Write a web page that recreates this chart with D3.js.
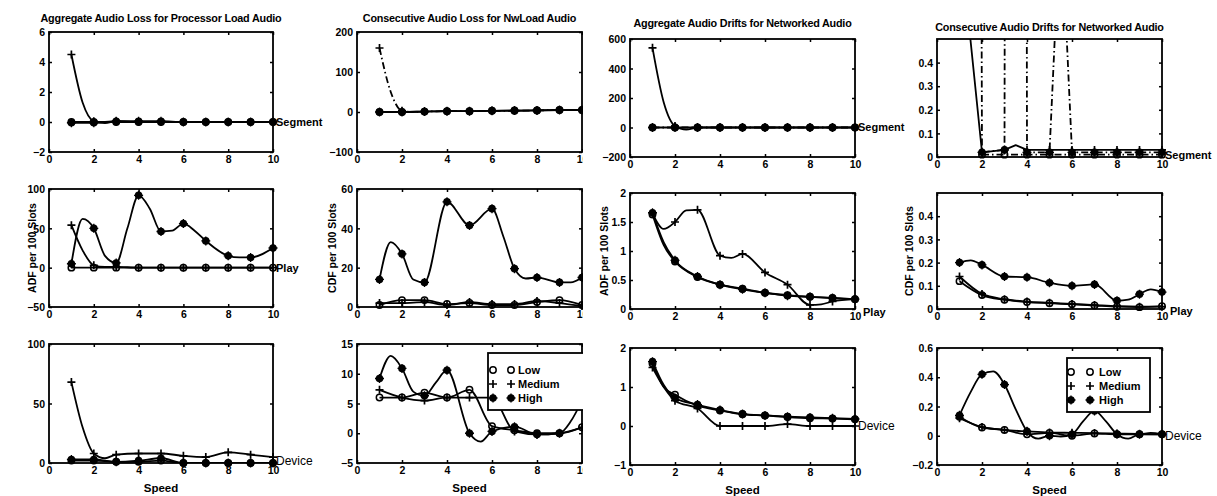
<!DOCTYPE html>
<html><head><meta charset="utf-8">
<script src="https://cdn.jsdelivr.net/npm/d3@7"></script>
<style>
body{margin:0;background:#fff}
svg{display:block}
text{font-family:"Liberation Sans",Arial,Helvetica,sans-serif;fill:#000}
</style>
</head><body>
<svg id="c" width="1217" height="496"></svg>
<script>
// ---------- texts ----------
const titles = [
  "Aggregate Audio Loss for Processor Load Audio",
  "Consecutive Audio Loss for NwLoad Audio",
  "Aggregate Audio Drifts for Networked Audio",
  "Consecutive Audio Drifts for Networked Audio"
];
const rowLabels = ["Segment", "Play", "Device"];
const yLabels = ["ADF per 100 Slots", "CDF per 100 Slots", "ADF per 100 Slots", "CDF per 100 Slots"];
const legendLabels = ["Low", "Medium", "High"];
const xLabel = "Speed";
const xTicks = [0, 2, 4, 6, 8, 10];

// ---------- axes ranges / ticks ----------
const yDomainsCol1 = [[-2, 6], [-50, 100], [0, 100]];
const yTicksCol1   = [[-2, 0, 2, 4, 6], [-50, 0, 50, 100], [0, 50, 100]];
const yDomainsCol2 = [[-100, 200], [0, 60], [-5, 15]];
const yTicksCol2   = [[-100, 0, 100, 200], [0, 20, 40, 60], [-5, 0, 5, 10, 15]];
const yDomainsCol3 = [[-200, 600], [0, 2], [-1, 2]];
const yTicksCol3   = [[-200, 0, 200, 400, 600], [0, 0.5, 1, 1.5, 2], [-1, 0, 1, 2]];
const yDomainsCol4 = [[0, 0.5], [0, 0.5], [-0.2, 0.6]];
const yTicksCol4   = [[0, 0.1, 0.2, 0.3, 0.4], [0, 0.1, 0.2, 0.3, 0.4], [-0.2, 0, 0.2, 0.4, 0.6]];
// value where the row label (Segment/Play/Device) sits at speed 10 (null: cut off in the original)
const labelValCol1 = [0, 0, 1.5];
const labelValCol2 = [null, null, null];
const labelValCol3 = [0, -0.05, 0];
const labelValCol4 = [0.009, -0.01, 0];

// ---------- data: [speed, value] ----------
// Column 1: Aggregate Audio Loss for Processor Load Audio
const c1SegLow  = [[1,0],[2,0],[3,0],[4,0],[5,0],[6,0],[7,0],[8,0],[9,0],[10,0]];
const c1SegMed  = [[1,4.5],[1.5,1.3],[2,0.05],[2.5,-0.08],[3,0.05],[4,0],[5,0],[6,0],[7,0],[8,0],[9,0],[10,0]];
const c1SegHigh = [[1,-0.05],[2,-0.05],[3,0.05],[4,0.05],[5,0.05],[6,0],[7,0],[8,0],[9,0],[10,0]];
const c1PlayLow  = [[1,0],[2,0],[3,0],[4,0],[5,0],[6,0],[7,0],[8,0],[9,0],[10,0]];
const c1PlayMed  = [[1,54],[1.5,22],[2,3],[2.5,1],[3,1],[4,0],[5,0],[6,0],[7,0],[8,0],[9,0],[10,0]];
const c1PlayHigh = [[1,5],[1.5,62],[2,50],[2.5,15],[3,6],[3.5,50],[4,92],[4.5,75],[5,46],[5.5,47],[6,56],[6.5,47],[7,34],[8,15],[8.5,13],[9,13],[10,25]];
const c1DevLow  = [[1,2],[2,2],[3,1],[4,1],[5,2],[6,0],[7,0],[8,0],[9,0],[10,0]];
const c1DevMed  = [[1,68],[1.5,30],[2,8],[2.5,4],[3,7],[4,8],[5,8],[6,6],[7,5],[8,9],[9,7],[10,5]];
const c1DevHigh = [[1,3],[2,3],[3,1],[4,2],[5,4],[6,0],[7,0],[8,0],[9,0],[10,0]];
// Column 2: Consecutive Audio Loss for NwLoad Audio
const c2SegLow  = [[1,0],[2,0],[3,1],[4,2],[5,2],[6,3],[7,3],[8,4],[9,5],[10,5]];
const c2SegMed  = [[1,160],[1.5,50],[2,3],[2.5,0],[3,1],[4,2],[5,2],[6,3],[7,3],[8,4],[9,5],[10,5]];
const c2SegHigh = [[1,0],[2,0],[3,1],[4,2],[5,2],[6,3],[7,4],[8,4],[9,5],[10,5]];
const c2PlayLow  = [[1,1],[2,3.5],[3,3.5],[4,1.5],[5,2],[6,1],[7,1],[8,2.5],[9,3.5],[10,1]];
const c2PlayMed  = [[1,2],[2,2],[3,2.5],[4,1],[5,2.5],[6,1.5],[7,1.5],[8,3],[9,2],[10,0.5]];
const c2PlayHigh = [[1,14],[1.5,33],[2,27],[2.5,14],[3,12.5],[4,53.5],[5,41.5],[6,50],[6.5,36],[7,19.5],[7.5,14.5],[8,15],[9,12.5],[9.5,12.5],[10,15]];
const c2DevLow  = [[1,6],[2,6],[3,6.8],[4,6],[5,7.3],[6,1.2],[7,0.5],[8,0],[9,0],[10,1]];
const c2DevMed  = [[1,7.3],[2,6],[3,5.5],[4,6],[5,6],[6,6],[7,0.3],[8,-0.2],[9,0],[10,1]];
const c2DevHigh = [[1,9.2],[1.5,13],[2,10.9],[2.5,7],[3,6.3],[3.5,8.5],[4,10.6],[5,0],[5.5,-1.4],[6,0.3],[7,1.1],[8,-0.2],[9,0],[9.5,2],[10,5.5]];
// Column 3: Aggregate Audio Drifts for Networked Audio
const c3SegLow  = [[1,0],[2,0],[3,0],[4,0],[5,0],[6,0],[7,0],[8,0],[9,0],[10,0]];
const c3SegMed  = [[1,540],[1.5,170],[2,10],[2.5,-15],[3,0],[4,0],[5,0],[6,0],[7,0],[8,0],[9,0],[10,0]];
const c3SegHigh = [[1,0],[2,0],[3,0],[4,0],[5,0],[6,0],[7,0],[8,0],[9,0],[10,0]];
const c3PlayLow  = [[1,1.63],[1.5,1.1],[2,0.82],[3,0.55],[4,0.42],[5,0.35],[6,0.28],[7,0.24],[8,0.21],[9,0.19],[10,0.17]];
const c3PlayMed  = [[1,1.65],[1.5,1.38],[2,1.5],[2.5,1.7],[3,1.71],[4,0.92],[4.5,0.88],[5,0.95],[6,0.63],[7,0.42],[8,0.07],[8.5,0.08],[9,0.13],[10,0.17]];
const c3PlayHigh = [[1,1.66],[1.5,1.15],[2,0.84],[3,0.56],[4,0.42],[5,0.34],[6,0.28],[7,0.23],[8,0.21],[9,0.19],[10,0.17]];
const c3DevLow  = [[1,1.6],[1.5,1.0],[2,0.8],[3,0.52],[4,0.4],[5,0.3],[6,0.27],[7,0.23],[8,0.2],[9,0.19],[10,0.17]];
const c3DevMed  = [[1,1.5],[1.5,1.0],[2,0.65],[3,0.45],[4,0],[5,0],[6,0],[7,0.05],[8,0],[9,0],[10,0]];
const c3DevHigh = [[1,1.65],[1.5,1.05],[2,0.72],[3,0.55],[4,0.41],[5,0.31],[6,0.27],[7,0.24],[8,0.22],[9,0.2],[10,0.18]];
// Column 4: Consecutive Audio Drifts for Networked Audio
const c4SegLow  = [[2,0.01],[3,0.01],[4,0.01],[5,0.01],[6,0.01],[7,0.01],[8,0.01],[9,0.01],[10,0.01]];
const c4SegMed  = [[1,0.95],[2,0.02],[3,0.03],[3.5,0.05],[4,0.03],[5,0.03],[6,0.03],[7,0.03],[8,0.03],[9,0.03],[10,0.03]];
const c4SegHigh = [[1,30],[2,0.02],[3,0.03],[3.5,30],[4,0.02],[5,0.02],[5.5,1.05],[6,0.02],[7,0.02],[8,0.02],[9,0.02],[10,0.02]];
const c4PlayLow  = [[1,0.12],[2,0.06],[3,0.04],[4,0.03],[5,0.025],[6,0.02],[7,0.015],[8,0.01],[9,0.008],[10,0.012]];
const c4PlayMed  = [[1,0.14],[2,0.065],[3,0.042],[4,0.032],[5,0.027],[6,0.022],[7,0.017],[8,0.012],[9,0.01],[10,0.01]];
const c4PlayHigh = [[1,0.2],[1.5,0.21],[2,0.19],[3,0.14],[4,0.137],[5,0.113],[6,0.1],[7,0.106],[8,0.036],[8.5,0.04],[9,0.064],[9.5,0.085],[10,0.073]];
const c4DevLow  = [[1,0.13],[2,0.056],[3,0.04],[4,0.01],[5,0.02],[6,0.0],[7,0.015],[8,0.01],[9,0.01],[9.5,0.02],[10,0.01]];
const c4DevMed  = [[1,0.12],[2,0.06],[3,0.04],[4,0.03],[5,0.022],[6,0.02],[7,0.018],[8,0.015],[9,0.012],[10,0.01]];
const c4DevHigh = [[1,0.14],[1.5,0.3],[2,0.42],[2.5,0.44],[3,0.35],[3.5,0.18],[4,0.03],[4.5,-0.02],[5,0.0],[5.5,-0.005],[6,0.01],[6.5,0.1],[7,0.17],[7.5,0.1],[8,0.01],[8.5,-0.02],[9,0.01],[10,0.01]];

// ---------- layout ----------
const W = 1217, H = 496;
const colX = [[49, 273], [357, 582], [630, 855], [937, 1162]];
const rowYA = [[32, 152], [189, 307], [344, 463]];
const rowYB = [[39, 157], [193, 309], [348, 465]];
const rowY = [rowYA, rowYA, rowYB, rowYB];
const titleY = [22, 22, 27, 31];
const yLabelX = [32, 332, 604, 909];
const labelDx = [[3, 3, 3], [3, 3, 3], [3, 8, 3], [3, 8, 3]];

const svg = d3.select("#c");
const defs = svg.append("defs");
defs.append("clipPath").attr("id", "col2clip").append("rect")
  .attr("x", 290).attr("y", 0).attr("width", 293).attr("height", H);

const DASHDOT = "7,3,1.5,3";
const cols = [
  {dom: yDomainsCol1, ticks: yTicksCol1, lab: labelValCol1,
   s: [[c1SegLow, c1SegMed, c1SegHigh], [c1PlayLow, c1PlayMed, c1PlayHigh], [c1DevLow, c1DevMed, c1DevHigh]],
   dash: [[null, null, null], [null, null, null], [null, null, null]], lin: [false, false, false]},
  {dom: yDomainsCol2, ticks: yTicksCol2, lab: labelValCol2,
   s: [[c2SegLow, c2SegMed, c2SegHigh], [c2PlayLow, c2PlayMed, c2PlayHigh], [c2DevLow, c2DevMed, c2DevHigh]],
   dash: [[null, DASHDOT, null], [null, null, null], [null, null, null]], lin: [false, false, false]},
  {dom: yDomainsCol3, ticks: yTicksCol3, lab: labelValCol3,
   s: [[c3SegLow, c3SegMed, c3SegHigh], [c3PlayLow, c3PlayMed, c3PlayHigh], [c3DevLow, c3DevMed, c3DevHigh]],
   dash: [[DASHDOT, null, null], [null, null, null], [null, null, null]], lin: [false, false, false]},
  {dom: yDomainsCol4, ticks: yTicksCol4, lab: labelValCol4,
   s: [[c4SegLow, c4SegMed, c4SegHigh], [c4PlayLow, c4PlayMed, c4PlayHigh], [c4DevLow, c4DevMed, c4DevHigh]],
   dash: [[DASHDOT, null, DASHDOT], [null, null, null], [null, null, null]], lin: [true, false, false]}
];
const markerKinds = ["o", "+", "*"];
const fmt = d3.format("~g");

function drawMarker(g, kind, cx, cy) {
  if (kind === "o") {
    g.append("circle").attr("cx", cx).attr("cy", cy).attr("r", 3.2)
      .attr("fill", "none").attr("stroke", "#000").attr("stroke-width", 1.5);
  } else if (kind === "+") {
    g.append("path").attr("d", `M${cx-4},${cy}H${cx+4}M${cx},${cy-4}V${cy+4}`)
      .attr("stroke", "#000").attr("stroke-width", 1.7).attr("fill", "none");
  } else {
    g.append("circle").attr("cx", cx).attr("cy", cy).attr("r", 3.8).attr("fill", "#000");
    g.append("path").attr("d", `M${cx-4.5},${cy}H${cx+4.5}M${cx},${cy-4.5}V${cy+4.5}`)
      .attr("stroke", "#000").attr("stroke-width", 1.3);
  }
}

cols.forEach((col, ci) => {
  const cg = svg.append("g");
  if (ci === 1) cg.attr("clip-path", "url(#col2clip)");
  const [x0, x1] = colX[ci];
  const x = d3.scaleLinear().domain([0, 10]).range([x0, x1]);

  // title
  cg.append("text").attr("x", (x0 + x1) / 2).attr("y", titleY[ci])
    .attr("text-anchor", "middle").attr("font-size", 10.8).attr("font-weight", "bold")
    .attr("letter-spacing", -0.2).text(titles[ci]);

  for (let ri = 0; ri < 3; ri++) {
    const [y0, y1] = rowY[ci][ri];
    const y = d3.scaleLinear().domain(col.dom[ri]).range([y1, y0]);
    const g = cg.append("g");
    const cid = `clip${ci}${ri}`;
    defs.append("clipPath").attr("id", cid).append("rect")
      .attr("x", x0).attr("y", y0).attr("width", x1 - x0).attr("height", y1 - y0);

    // lines
    const pg = g.append("g").attr("clip-path", `url(#${cid})`);
    col.s[ri].forEach((pts, si) => {
      const line = d3.line().x(d => x(d[0])).y(d => y(d[1]))
        .curve(col.lin[ri] ? d3.curveLinear : d3.curveMonotoneX);
      pg.append("path").datum(pts).attr("d", line)
        .attr("fill", "none").attr("stroke", "#000").attr("stroke-width", 1.8)
        .attr("stroke-linejoin", "round")
        .attr("stroke-dasharray", col.dash[ri][si]);
    });
    // markers
    const mg = g.append("g");
    col.s[ri].forEach((pts, si) => {
      const [d0, d1] = col.dom[ri];
      pts.filter(d => Number.isInteger(d[0]) && d[1] >= d0 && d[1] <= d1)
        .forEach(d => drawMarker(mg, markerKinds[si], x(d[0]), y(d[1])));
    });

    // box
    g.append("rect").attr("x", x0).attr("y", y0).attr("width", x1 - x0).attr("height", y1 - y0)
      .attr("fill", "none").attr("stroke", "#000").attr("stroke-width", 1.8);

    // axes (inward ticks on all sides)
    const ax = g.append("g");
    const bottom = ax.append("g").attr("transform", `translate(0,${y1})`)
      .call(d3.axisBottom(x).tickValues(xTicks).tickSize(-3).tickPadding(4).tickFormat(fmt));
    const left = ax.append("g").attr("transform", `translate(${x0},0)`)
      .call(d3.axisLeft(y).tickValues(col.ticks[ri]).tickSize(-3).tickPadding(4).tickFormat(fmt));
    const top = ax.append("g").attr("transform", `translate(0,${y0})`)
      .call(d3.axisTop(x).tickValues(xTicks).tickSize(-3).tickFormat(""));
    const right = ax.append("g").attr("transform", `translate(${x1},0)`)
      .call(d3.axisRight(y).tickValues(col.ticks[ri]).tickSize(-3).tickFormat(""));
    [bottom, left, top, right].forEach(a => {
      a.select(".domain").remove();
      a.selectAll("line").attr("stroke-width", 1.5);
      a.selectAll("text").attr("font-family", "Liberation Sans, Arial, sans-serif")
        .attr("font-weight", "bold").attr("font-size", 10.5);
    });
    left.selectAll("text").attr("dy", "0.35em");

    // row label at right
    if (col.lab[ri] !== null) {
      g.append("text").attr("x", x1 + labelDx[ci][ri]).attr("y", y(col.lab[ri])).attr("dy", "0.35em")
        .attr("font-size", ri === 2 ? 12 : 11).attr("font-weight", ri === 2 ? "normal" : "bold")
        .text(rowLabels[ri]);
    }

    // y label on middle row
    if (ri === 1) {
      g.append("text")
        .attr("transform", `translate(${yLabelX[ci]},${(y0 + y1) / 2}) rotate(-90)`)
        .attr("text-anchor", "middle").attr("dy", "0.35em")
        .attr("font-size", 10.5).attr("font-weight", "bold").text(yLabels[ci]);
    }
    // x label on bottom row
    if (ri === 2) {
      g.append("text").attr("x", (x0 + x1) / 2).attr("y", y1 + 29)
        .attr("text-anchor", "middle").attr("font-size", 11.5).attr("font-weight", "bold")
        .text(xLabel);
    }
    // legends on bottom row of columns 2 and 4
    if (ri === 2 && (ci === 1 || ci === 3)) {
      const L = ci === 1 ? {x: 488, y: 353, w: 112, h: 57, m1: 493, m2: 511, t: 518, ys: [370, 384, 398]}
                         : {x: 1067, y: 358, w: 83, h: 54, m1: 1071, m2: 1090, t: 1099, ys: [372, 386, 400]};
      const lg = g.append("g");
      lg.append("rect").attr("x", L.x).attr("y", L.y).attr("width", L.w).attr("height", L.h)
        .attr("fill", "#fff").attr("stroke", "#000").attr("stroke-width", 1.8);
      legendLabels.forEach((t, i) => {
        drawMarker(lg, markerKinds[i], L.m1, L.ys[i]);
        drawMarker(lg, markerKinds[i], L.m2, L.ys[i]);
        lg.append("text").attr("x", L.t).attr("y", L.ys[i]).attr("dy", "0.35em")
          .attr("font-size", 11).attr("font-weight", "bold").text(t);
      });
    }
  }
});
</script>
</body></html>
